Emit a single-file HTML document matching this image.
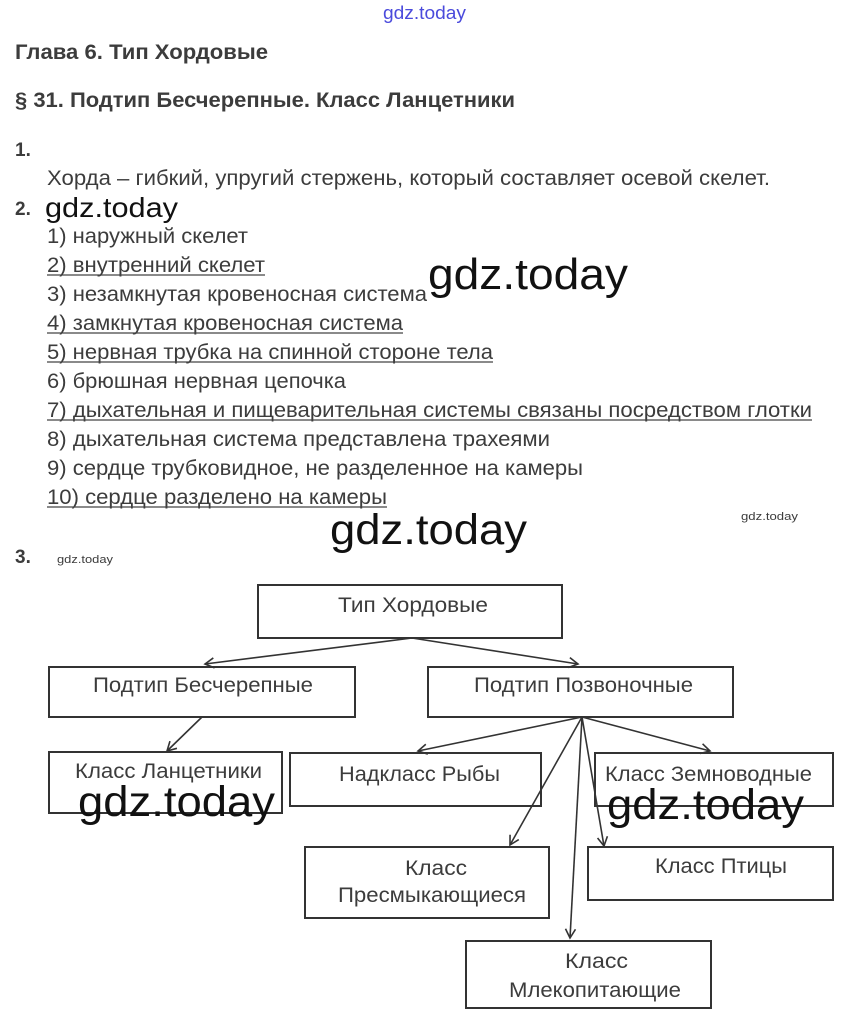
<!DOCTYPE html>
<html><head><meta charset="utf-8"><style>
html,body{margin:0;padding:0;background:#fff;}
svg{display:block;}
text{font-family:"Liberation Sans",sans-serif;fill:#3c3c3c;}
.b{font-weight:bold;}
.wm{fill:#111;}
</style></head><body>
<svg width="847" height="1025" viewBox="0 0 847 1025" xmlns="http://www.w3.org/2000/svg" lengthAdjust="spacingAndGlyphs">
<defs><marker id="a" markerWidth="12" markerHeight="12" refX="10" refY="6" orient="auto" markerUnits="userSpaceOnUse"><path d="M1,1 L10,6 L1,11" fill="none" stroke="#333" stroke-width="1.6"/></marker></defs>
<text x="383" y="19" font-size="18" textLength="83" lengthAdjust="spacingAndGlyphs" style="fill:#4a4adc">gdz.today</text>
<text class="b" x="15" y="59" font-size="21" textLength="253" lengthAdjust="spacingAndGlyphs">Глава 6. Тип Хордовые</text>
<text class="b" x="15" y="107" font-size="21" textLength="500" lengthAdjust="spacingAndGlyphs">§ 31. Подтип Бесчерепные. Класс Ланцетники</text>
<text class="b" x="15" y="156" font-size="19">1.</text>
<text x="47" y="185" font-size="21" textLength="723" lengthAdjust="spacingAndGlyphs">Хорда – гибкий, упругий стержень, который составляет осевой скелет.</text>
<text class="b" x="15" y="215" font-size="19">2.</text>
<text class="wm" x="45" y="217" font-size="28" textLength="133" lengthAdjust="spacingAndGlyphs">gdz.today</text>
<g font-size="21">
<text x="47" y="243" textLength="201" lengthAdjust="spacingAndGlyphs">1) наружный скелет</text>
<text x="47" y="272" textLength="218" lengthAdjust="spacingAndGlyphs">2) внутренний скелет</text>
<text x="47" y="301" textLength="380" lengthAdjust="spacingAndGlyphs">3) незамкнутая кровеносная система</text>
<text x="47" y="330" textLength="356" lengthAdjust="spacingAndGlyphs">4) замкнутая кровеносная система</text>
<text x="47" y="359" textLength="446" lengthAdjust="spacingAndGlyphs">5) нервная трубка на спинной стороне тела</text>
<text x="47" y="388" textLength="299" lengthAdjust="spacingAndGlyphs">6) брюшная нервная цепочка</text>
<text x="47" y="417" textLength="765" lengthAdjust="spacingAndGlyphs">7) дыхательная и пищеварительная системы связаны посредством глотки</text>
<text x="47" y="446" textLength="503" lengthAdjust="spacingAndGlyphs">8) дыхательная система представлена трахеями</text>
<text x="47" y="475" textLength="536" lengthAdjust="spacingAndGlyphs">9) сердце трубковидное, не разделенное на камеры</text>
<text x="47" y="504" textLength="340" lengthAdjust="spacingAndGlyphs">10) сердце разделено на камеры</text>
</g>
<g stroke="#444" stroke-width="1.3">
<line x1="47" y1="275" x2="265" y2="275"/>
<line x1="47" y1="333" x2="403" y2="333"/>
<line x1="47" y1="362" x2="493" y2="362"/>
<line x1="47" y1="420" x2="812" y2="420"/>
<line x1="47" y1="507" x2="387" y2="507"/>
</g>
<text class="wm" x="428" y="289" font-size="44" textLength="200" lengthAdjust="spacingAndGlyphs">gdz.today</text>
<text class="wm" x="330" y="544" font-size="43" textLength="197" lengthAdjust="spacingAndGlyphs">gdz.today</text>
<text x="741" y="520" font-size="11" textLength="57" lengthAdjust="spacingAndGlyphs">gdz.today</text>
<text class="b" x="15" y="563" font-size="19">3.</text>
<text x="57" y="563" font-size="11" textLength="56" lengthAdjust="spacingAndGlyphs">gdz.today</text>
<g fill="none" stroke="#333" stroke-width="2">
<rect x="258" y="585" width="304" height="53"/>
<rect x="49" y="667" width="306" height="50"/>
<rect x="428" y="667" width="305" height="50"/>
<rect x="49" y="752" width="233" height="61"/>
<rect x="290" y="753" width="251" height="53"/>
<rect x="595" y="753" width="238" height="53"/>
<rect x="305" y="847" width="244" height="71"/>
<rect x="588" y="847" width="245" height="53"/>
<rect x="466" y="941" width="245" height="67"/>
</g>
<g stroke="#333" stroke-width="1.6" fill="none" marker-end="url(#a)">
<line x1="412" y1="638" x2="205" y2="664"/>
<line x1="412" y1="638" x2="578" y2="664"/>
<line x1="202" y1="717" x2="167" y2="751"/>
<line x1="582" y1="717" x2="418" y2="751"/>
<line x1="582" y1="717" x2="710" y2="751"/>
<line x1="582" y1="717" x2="510" y2="845"/>
<line x1="582" y1="717" x2="604" y2="846"/>
<line x1="582" y1="717" x2="570" y2="938"/>
</g>
<g font-size="21">
<text x="338" y="612" textLength="150" lengthAdjust="spacingAndGlyphs">Тип Хордовые</text>
<text x="93" y="692" textLength="220" lengthAdjust="spacingAndGlyphs">Подтип Бесчерепные</text>
<text x="474" y="692" textLength="219" lengthAdjust="spacingAndGlyphs">Подтип Позвоночные</text>
<text x="75" y="778" textLength="187" lengthAdjust="spacingAndGlyphs">Класс Ланцетники</text>
<text x="339" y="781" textLength="161" lengthAdjust="spacingAndGlyphs">Надкласс Рыбы</text>
<text x="605" y="781" textLength="207" lengthAdjust="spacingAndGlyphs">Класс Земноводные</text>
<text x="405" y="875" textLength="62" lengthAdjust="spacingAndGlyphs">Класс</text>
<text x="338" y="902" textLength="188" lengthAdjust="spacingAndGlyphs">Пресмыкающиеся</text>
<text x="655" y="873" textLength="132" lengthAdjust="spacingAndGlyphs">Класс Птицы</text>
<text x="565" y="968" textLength="63" lengthAdjust="spacingAndGlyphs">Класс</text>
<text x="509" y="997" textLength="172" lengthAdjust="spacingAndGlyphs">Млекопитающие</text>
</g>
<text class="wm" x="78" y="816" font-size="43" textLength="197" lengthAdjust="spacingAndGlyphs">gdz.today</text>
<text class="wm" x="607" y="819" font-size="43" textLength="197" lengthAdjust="spacingAndGlyphs">gdz.today</text>
</svg>
</body></html>
